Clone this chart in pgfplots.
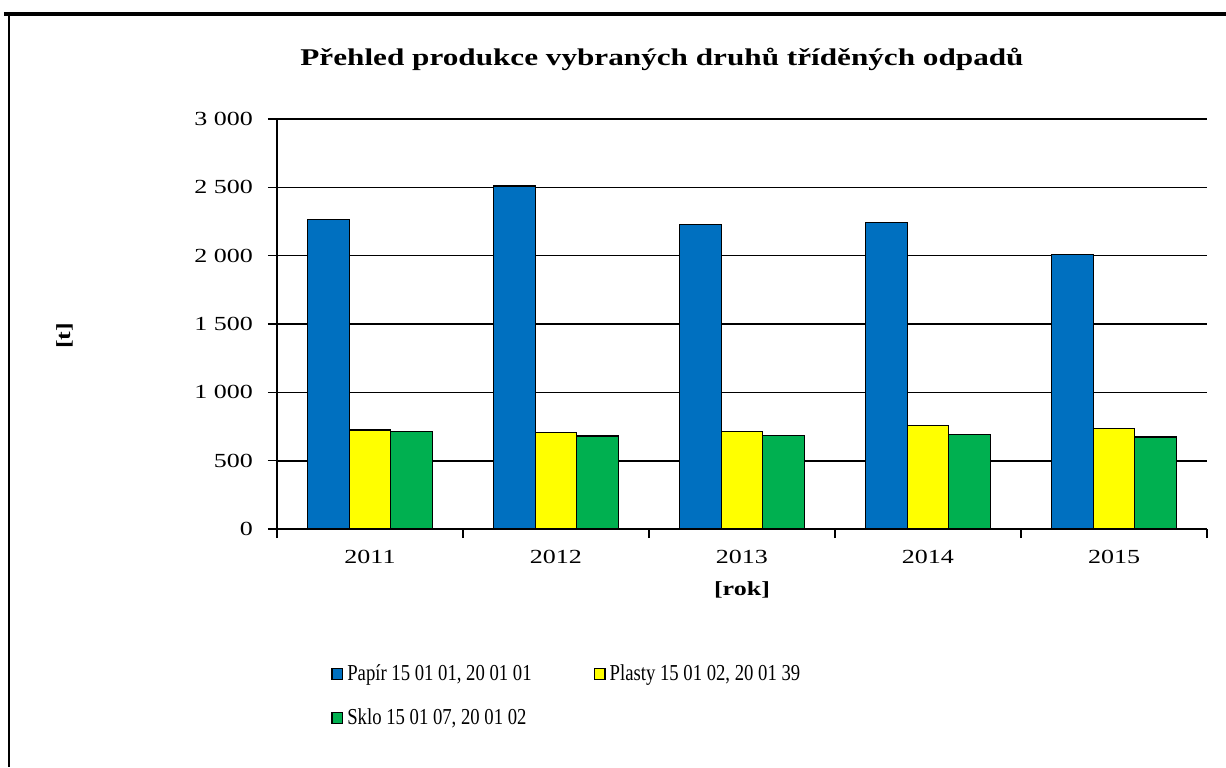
\documentclass[border=0pt]{standalone}
\usepackage{fontspec}
\setmainfont{Liberation Serif}
\newfontfamily\widefont[FakeStretch=1.3]{Liberation Serif}
\newfontfamily\narrowfont[FakeStretch=0.82]{Liberation Serif}
\usepackage{pgfplots}
\pgfplotsset{compat=1.18}
\definecolor{papir}{RGB}{0,112,192}
\definecolor{plasty}{RGB}{255,255,0}
\definecolor{sklo}{RGB}{0,176,80}
\begin{document}
\begin{tikzpicture}
\useasboundingbox (-138.5pt,-119pt) rectangle (474.5pt,264.5pt);
\draw[line width=2pt] (-136.5pt,257.5pt) -- (474.5pt,257.5pt);
\draw[line width=0.8pt] (-134pt,257.5pt) -- (-134pt,-119pt);
\begin{axis}[
  at={(0,0)}, anchor=south west,
  scale only axis,
  width=465pt, height=205pt,
  ybar, ybar=0pt, bar width=20.75pt,
  xmin=-0.5, xmax=4.5, ymin=0, ymax=3000,
  axis x line=bottom, axis y line=left,
  axis line style={-, line width=0.6pt},
  xtick={0,1,2,3,4},
  xticklabels={2011,2012,2013,2014,2015},
  major x tick style={draw=none},
  minor xtick={-0.5,0.5,1.5,2.5,3.5,4.5},
  minor x tick style={line width=0.8pt, black},
  minor tick length=4.5pt,
  tick align=outside,
  ytick={0,500,1000,1500,2000,2500,3000},
  yticklabels={0,500,1 000,1 500,2 000,2 500,3 000},
  major tick length=4.5pt,
  y tick style={black, line width=0.6pt},
  ymajorgrids, grid style={black, line width=0.6pt},
  extra y ticks={500}, extra y tick labels={},
  extra y tick style={grid style={black, line width=1.1pt}},
  tick label style={font=\widefont\fontsize{10}{12}\selectfont, text=black},
  yticklabel style={xshift=-4pt},
  xticklabel style={yshift=-2.5pt},
  title={\widefont\bfseries\fontsize{12}{14}\selectfont Přehled produkce vybraných druhů tříděných odpadů},
  title style={at={(axis description cs:0.414,1.117)}, anchor=center},
  xlabel={\widefont\bfseries\fontsize{10}{12}\selectfont [rok]},
  xlabel style={at={(axis description cs:0.5,-0.149)}, anchor=center},
  ylabel={\widefont\bfseries\fontsize{10}{12}\selectfont [t]},
  ylabel style={at={(axis description cs:-0.228,0.471)}, anchor=center},
  legend columns=2,
  legend cell align=left,
  legend style={at={(axis description cs:0.058,-0.32)}, anchor=north west, draw=none,
    font=\narrowfont\fontsize{11.4}{13}\selectfont, inner sep=0pt, row sep=8.5pt,
    /tikz/every even column/.append style={column sep=29pt}},
  legend image code/.code={\draw[#1, draw=black, line width=0.6pt] (0pt,-2.7pt) rectangle (5.4pt,2.7pt);},
  every axis plot/.append style={draw=black, line width=0.6pt},
]
\addplot[fill=papir] coordinates {(0,2266) (1,2510) (2,2230) (3,2244) (4,2008)};
\addplot[fill=plasty] coordinates {(0,724) (1,707) (2,714) (3,758) (4,738)};
\addplot[fill=sklo] coordinates {(0,716) (1,680) (2,687) (3,694) (4,673)};
\legend{Papír 15 01 01\hbox{,} 20 01 01, Plasty 15 01 02\hbox{,} 20 01 39, Sklo 15 01 07\hbox{,} 20 01 02}
\end{axis}
\end{tikzpicture}
\end{document}
